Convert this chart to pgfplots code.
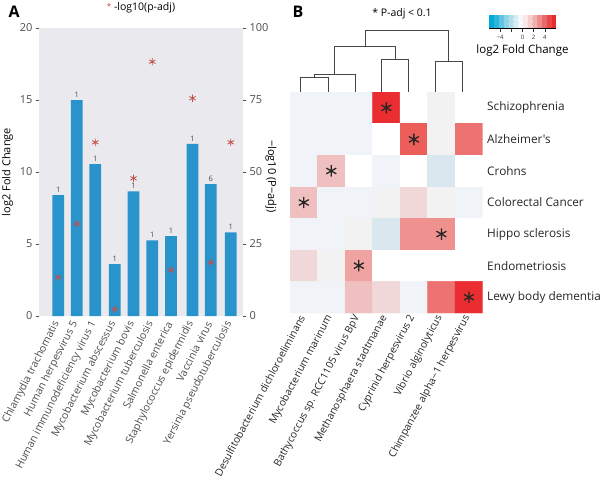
\documentclass[border=0pt]{standalone}
\usepackage{fontspec}
\setmainfont{Open Sans}
\newfontfamily\bfam{Open Sans}
\usepackage{pgfplots}
\usepackage{pgfplotstable}
\pgfplotsset{compat=1.18}
\newcommand\fs[1]{\fontsize{#1}{#1}\selectfont}
\definecolor{barblue}{RGB}{41,148,203}
\definecolor{astred}{RGB}{196,78,75}
\definecolor{panelbg}{RGB}{234,234,238}
\definecolor{ticktext}{RGB}{77,77,77}
\definecolor{dend}{RGB}{70,70,70}

% Panel A: x position (px), log2 fold change, count label
\pgfplotstableread{
x lfc n
58.3 8.4 1
76.8 15.0 1
95.3 10.55 1
114.8 3.6 1
133.5 8.65 1
152.3 5.25 1
171.0 5.55 1
192.5 11.95 1
210.8 9.15 6
230.8 5.8 1
}\bars
% Panel A: -log10(p-adj)
\pgfplotstableread{
x p
58.3 13.4
76.8 32.0
95.3 60.3
114.8 2.3
133.5 47.8
152.3 88.3
171.0 16.0
192.5 75.6
210.8 18.6
230.8 60.3
}\pvals
% Panel B: colour class of each cell (index into colour scale)
\pgfplotstableread{
x y c
1 1 1
2 1 1
3 1 1
4 1 10
5 1 0
6 1 2
7 1 0
1 2 1
2 2 1
3 2 1
4 2 0
5 2 9
6 2 2
7 2 8
1 3 1
2 3 5
3 3 0
4 3 1
5 3 0
6 3 3
7 3 0
1 4 5
2 4 1
3 4 1
4 4 2
5 4 4
6 4 2
7 4 1
1 5 1
2 5 1
3 5 2
4 5 3
5 5 7
6 5 7
7 5 0
1 6 4
2 6 2
3 6 6
4 6 0
5 6 0
6 6 0
7 6 0
1 7 1
2 7 1
3 7 5
4 7 4
5 7 1
6 7 8
7 7 10
}\heat

\begin{document}
\begin{tikzpicture}
\useasboundingbox (0,0) rectangle (605pt,488pt);
\pgfplotsset{/pgf/number format/assume math mode=true}

% ---------------- Panel A ----------------
\begin{axis}[
  at={(39pt,172pt)}, anchor=south west, scale only axis,
  width=204pt, height=288pt,
  xmin=39, xmax=243, ymin=0, ymax=20,
  axis background/.style={fill=panelbg},
  axis line style={draw=none},
  ytick={0,5,10,15,20}, ytick pos=left,
  tick align=outside, major tick length=3pt,
  ytick style={ticktext, line width=0.6pt},
  yticklabel style={font=\fs{11}, text=ticktext},
  xtick={58.3,76.8,95.3,114.8,133.5,152.3,171.0,192.5,210.8,230.8},
  xtick style={draw=none},
  xticklabels={Chlamydia trachomatis, Human herpesvirus 5, Human immunodeficiency virus 1, Mycobacterium abscessus, Mycobacterium bovis, Mycobacterium tuberculosis, Salmonella enterica, Staphylococcus epidermidis, Vaccinia virus, Yersinia pseudotuberculosis},
  xticklabel style={rotate=63, anchor=east, font=\fs{10.5}, text=ticktext},
  ylabel={log2 Fold Change}, ylabel style={font=\fs{11}},
  title={{\color{astred}\fs{8}\raisebox{1pt}{*}} -log10(p-adj)},
  title style={font=\fs{10.5}, at={(0.5,1)}, anchor=base, yshift=12pt},
]
\addplot[ybar, bar width=11.7pt, fill=barblue, draw=none,
  nodes near coords, point meta=explicit symbolic,
  nodes near coords style={font=\fs{7.5}, text=ticktext, yshift=-1pt}]
  table[x=x, y=lfc, meta=n]{\bars};
\end{axis}
\begin{axis}[
  at={(39pt,172pt)}, anchor=south west, scale only axis,
  width=204pt, height=288pt,
  xmin=39, xmax=243, ymin=0, ymax=100,
  axis x line=none, axis y line*=right,
  axis line style={draw=none},
  ytick={0,25,50,75,100},
  tick align=outside, major tick length=3pt,
  ytick style={ticktext, line width=0.6pt},
  yticklabel style={font=\fs{11}, text=ticktext},
  ylabel={−log10 (P−adj)},
  ylabel style={font=\fs{11}, rotate=180, at={(axis description cs:1.137,0.485)}, anchor=center},
]
\addplot[only marks, mark=asterisk, mark size=3.6pt, line width=0.8pt, astred]
  table[x=x, y=p]{\pvals};
\end{axis}
\node[font=\bfseries\fs{16}, anchor=base west] at (5pt,470pt) {A};

% ---------------- Panel B ----------------
% dendrogram
\begin{axis}[
  at={(290pt,396pt)}, anchor=south west, scale only axis,
  width=192.7pt, height=62pt,
  xmin=0.5, xmax=7.5, ymin=0, ymax=62, hide axis, clip=false,
]
\addplot[dend, line width=0.7pt] coordinates {(0.89,0) (0.89,14.7) (1.89,14.7) (1.89,0)};
\addplot[dend, line width=0.7pt] coordinates {(1.39,14.7) (1.39,18) (2.86,18) (2.86,0)};
\addplot[dend, line width=0.7pt] coordinates {(3.83,0) (3.83,33) (4.80,33) (4.80,0)};
\addplot[dend, line width=0.7pt] coordinates {(2.125,18) (2.125,45.3) (4.315,45.3) (4.315,33)};
\addplot[dend, line width=0.7pt] coordinates {(5.77,0) (5.77,30.3) (6.76,30.3) (6.76,0)};
\addplot[dend, line width=0.7pt] coordinates {(3.22,45.3) (3.22,62) (6.265,62) (6.265,30.3)};
\end{axis}
% heatmap
\begin{axis}[
  at={(290pt,175pt)}, anchor=south west, scale only axis,
  width=192.7pt, height=221pt,
  xmin=0.5, xmax=7.5, ymin=0.5, ymax=7.5, y dir=reverse,
  enlargelimits=false,
  axis line style={draw=none}, major tick length=0pt,
  colormap={cells}{rgb255=(255,255,255) rgb255=(240,244,248) rgb255=(242,242,242)
    rgb255=(218,231,239) rgb255=(240,216,217) rgb255=(240,191,192) rgb255=(239,163,163)
    rgb255=(239,145,143) rgb255=(236,115,113) rgb255=(236,94,90) rgb255=(233,45,48)},
  colormap access=direct,
  xtick={1,...,7}, ytick={1,...,7},
  xticklabels={Desulfitobacterium dichloroeliminans, Mycobacterium marinum, Bathycoccus sp. RCC1105 virus BpV, Methanosphaera stadtmanae, Cyprinid herpesvirus 2, Vibrio alginolyticus, Chimpanzee alpha−1 herpesvirus},
  xticklabel style={rotate=62, anchor=east, font=\bfam\fs{10.3}, text=black!85},
  yticklabel pos=right,
  yticklabels={Schizophrenia, Alzheimer's, Crohns, Colorectal Cancer, Hippo sclerosis, Endometriosis, Lewy body dementia},
  yticklabel style={anchor=west, font=\bfam\fs{11.8}, text=black!85, xshift=1pt},
]
\addplot[matrix plot*, mesh/cols=7, point meta=explicit] table[x=x, y=y, meta=c]{\heat};
\addplot[only marks, mark=asterisk, mark size=5.7pt, line width=1.3pt, black!85]
  coordinates {(4,1) (5,2) (2,3) (1,4) (6,5) (3,6) (7,7)};
\end{axis}
% colour key
\begin{axis}[
  at={(489pt,468pt)}, anchor=south west, scale only axis,
  width=67pt, height=14pt, hide axis,
  xmin=-6, xmax=6, ymin=0, ymax=1,
  colormap={cb}{rgb255=(0,170,214) rgb255=(40,182,222) rgb255=(95,196,226) rgb255=(140,210,232)
    rgb255=(180,222,236) rgb255=(215,235,242) rgb255=(246,248,250) rgb255=(250,232,232)
    rgb255=(244,205,205) rgb255=(240,175,175) rgb255=(236,140,140) rgb255=(234,105,105)
    rgb255=(232,70,72) rgb255=(232,45,48)},
  colormap access=piecewise const,
  point meta min=-6, point meta max=6,
  colorbar horizontal,
  colorbar style={at={(parent axis.south west)}, anchor=south west,
    width=67pt, height=14pt,
    axis x line*=bottom, axis y line=none,
    xtick={-4,-2,0,2,4}, xticklabels={−4,,0,2,4},
    tick align=outside, major tick length=3pt,
    xtick style={black!80, line width=0.5pt},
    xticklabel style={font=\bfam\fs{6}, text=black!80},
    xlabel={log2 Fold Change}, xlabel style={font=\bfam\fs{11.5}, yshift=2pt}},
]
\addplot[draw=none] coordinates {(0,0.5)};
\end{axis}
\node[font=\bfam\bfseries\fs{16}, anchor=base west] at (289pt,470pt) {B};
\node[font=\bfam\fs{10.5}] at (402pt,474pt) {* P-adj < 0.1};
\end{tikzpicture}
\end{document}
